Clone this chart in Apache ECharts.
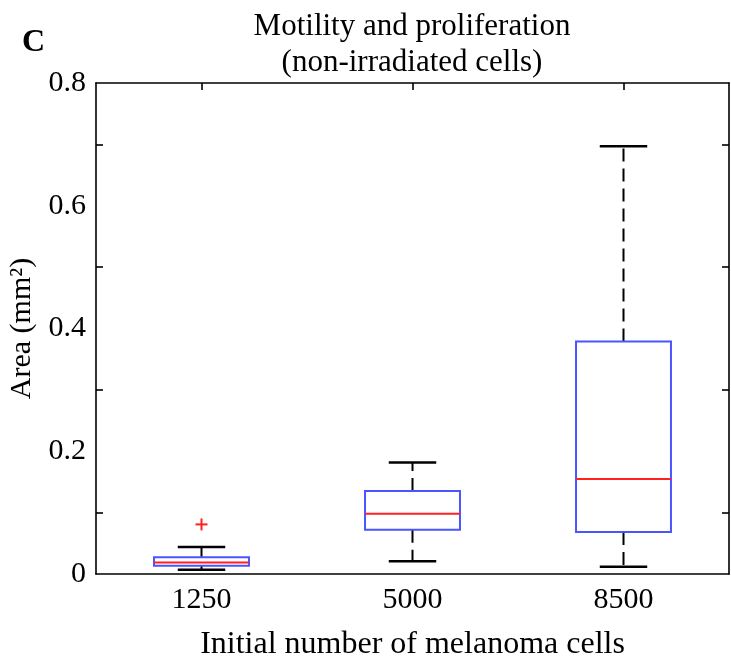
<html lang="en">
  <head>
    <meta charset="UTF-8" />
    <title>Motility and proliferation</title>
    <style>
      html, body { margin: 0; padding: 0; background: #fff; }
    </style>
  </head>
  <body>
    <div id="main" style="width: 731px; height: 662px"></div>

    <script src="https://cdn.jsdelivr.net/npm/echarts@6/dist/echarts.min.js"></script>
    <script>
      // 数据
      const categories = ['1250', '5000', '8500']
      const lowerWhisker = [0.0069, 0.0209, 0.0119]
      const q1 = [0.0134, 0.0722, 0.0684]
      const median = [0.0188, 0.0983, 0.1548]
      const q3 = [0.0274, 0.1352, 0.379]
      const upperWhisker = [0.0438, 0.1816, 0.697]
      // 离群点: [类别下标, 值]
      const outliers = [[0, 0.0808]]
      const yTicks = [0, 0.2, 0.4, 0.6, 0.8]

      const font = 'Liberation Serif'
      const boxData = categories.map((c, i) => [i, lowerWhisker[i], q1[i], median[i], q3[i], upperWhisker[i]])

      const axisLineStyle = { color: '#000', width: 1.6 }

      let option = {
        animation: false,
        backgroundColor: '#fff',
        grid: { left: 96, right: 2, top: 83, bottom: 88, outerBoundsMode: 'none', containLabel: false },
        graphic: [
          { type: 'text', x: 412, y: 27, style: { text: 'Motility and proliferation', font: '31px ' + font, fill: '#000', textAlign: 'center', textVerticalAlign: 'middle' } },
          { type: 'text', x: 412, y: 63, style: { text: '(non-irradiated cells)', font: '31px ' + font, fill: '#000', textAlign: 'center', textVerticalAlign: 'middle' } },
          { type: 'text', x: 22, y: 43, style: { text: 'C', font: 'bold 32px ' + font, fill: '#000', textAlign: 'left', textVerticalAlign: 'middle' } }
        ],
        xAxis: [
          {
            type: 'category',
            data: categories,
            position: 'bottom',
            boundaryGap: true,
            axisLine: { onZero: false, lineStyle: axisLineStyle },
            axisTick: { alignWithLabel: true, inside: true, length: 7, lineStyle: axisLineStyle },
            axisLabel: { color: '#000', fontFamily: font, fontSize: 30, margin: 11 },
            name: 'Initial number of melanoma cells',
            nameLocation: 'middle',
            nameGap: 55,
            nameTextStyle: { color: '#000', fontFamily: font, fontSize: 32 }
          },
          {
            type: 'category',
            data: categories,
            position: 'top',
            boundaryGap: true,
            axisLine: { onZero: false, lineStyle: axisLineStyle },
            axisTick: { show: true, alignWithLabel: true, inside: true, length: 7, lineStyle: axisLineStyle },
            axisLabel: { show: false }
          }
        ],
        yAxis: [
          {
            type: 'value',
            min: yTicks[0],
            max: yTicks[yTicks.length - 1],
            interval: 0.2,
            position: 'left',
            axisLine: { show: true, onZero: false, lineStyle: axisLineStyle },
            axisTick: { inside: true, length: 7, lineStyle: axisLineStyle },
            minorTick: { show: true, splitNumber: 2, length: 7, lineStyle: axisLineStyle },
            splitLine: { show: false },
            axisLabel: {
              color: '#000',
              fontFamily: font,
              fontSize: 30,
              margin: 10,
              formatter: (v) => (v === 0 ? '0' : v.toFixed(1))
            },
            name: 'Area (mm²)',
            nameLocation: 'middle',
            nameGap: 57,
            nameTextStyle: { color: '#000', fontFamily: font, fontSize: 30 }
          },
          {
            type: 'value',
            min: yTicks[0],
            max: yTicks[yTicks.length - 1],
            interval: 0.2,
            position: 'right',
            axisLine: { show: true, onZero: false, lineStyle: axisLineStyle },
            axisTick: { inside: true, length: 7, lineStyle: axisLineStyle },
            minorTick: { show: true, splitNumber: 2, length: 7, lineStyle: axisLineStyle },
            splitLine: { show: false },
            axisLabel: { show: false }
          }
        ],
        series: [
          {
            type: 'custom',
            name: 'box',
            xAxisIndex: 0,
            yAxisIndex: 0,
            data: boxData,
            encode: { x: 0, y: [1, 2, 3, 4, 5] },
            renderItem(params, api) {
              const idx = api.value(0)
              const xc = api.coord([idx, 0])[0]
              const band = api.size([1, 0])[0]
              const bw = band * 0.45
              const cw = bw / 4
              const yLow = api.coord([idx, api.value(1)])[1]
              const yQ1 = api.coord([idx, api.value(2)])[1]
              const yMed = api.coord([idx, api.value(3)])[1]
              const yQ3 = api.coord([idx, api.value(4)])[1]
              const yHigh = api.coord([idx, api.value(5)])[1]
              const dash = { stroke: '#000', lineWidth: 2, lineDash: [13, 7] }
              const cap = { stroke: '#000', lineWidth: 2.5 }
              return {
                type: 'group',
                children: [
                  { type: 'line', shape: { x1: xc, y1: yQ3, x2: xc, y2: yHigh }, style: dash },
                  { type: 'line', shape: { x1: xc, y1: yQ1, x2: xc, y2: yLow }, style: dash },
                  { type: 'line', shape: { x1: xc - cw, y1: yHigh, x2: xc + cw, y2: yHigh }, style: cap },
                  { type: 'line', shape: { x1: xc - cw, y1: yLow, x2: xc + cw, y2: yLow }, style: cap },
                  { type: 'rect', shape: { x: xc - bw / 2, y: yQ3, width: bw, height: yQ1 - yQ3 }, style: { fill: '#fff', stroke: '#4a55ff', lineWidth: 2 } },
                  { type: 'line', shape: { x1: xc - bw / 2, y1: yMed, x2: xc + bw / 2, y2: yMed }, style: { stroke: '#ff2020', lineWidth: 2 } }
                ]
              }
            }
          },
          {
            type: 'custom',
            name: 'outliers',
            xAxisIndex: 0,
            yAxisIndex: 0,
            data: outliers,
            encode: { x: 0, y: 1 },
            renderItem(params, api) {
              const p = api.coord([api.value(0), api.value(1)])
              const s = 6
              const st = { stroke: '#ff2020', lineWidth: 2 }
              return {
                type: 'group',
                children: [
                  { type: 'line', shape: { x1: p[0] - s, y1: p[1], x2: p[0] + s, y2: p[1] }, style: st },
                  { type: 'line', shape: { x1: p[0], y1: p[1] - s, x2: p[0], y2: p[1] + s }, style: st }
                ]
              }
            }
          }
        ]
      }
      echarts.init(document.querySelector('#main')).setOption(option)
    </script>
  </body>
</html>
